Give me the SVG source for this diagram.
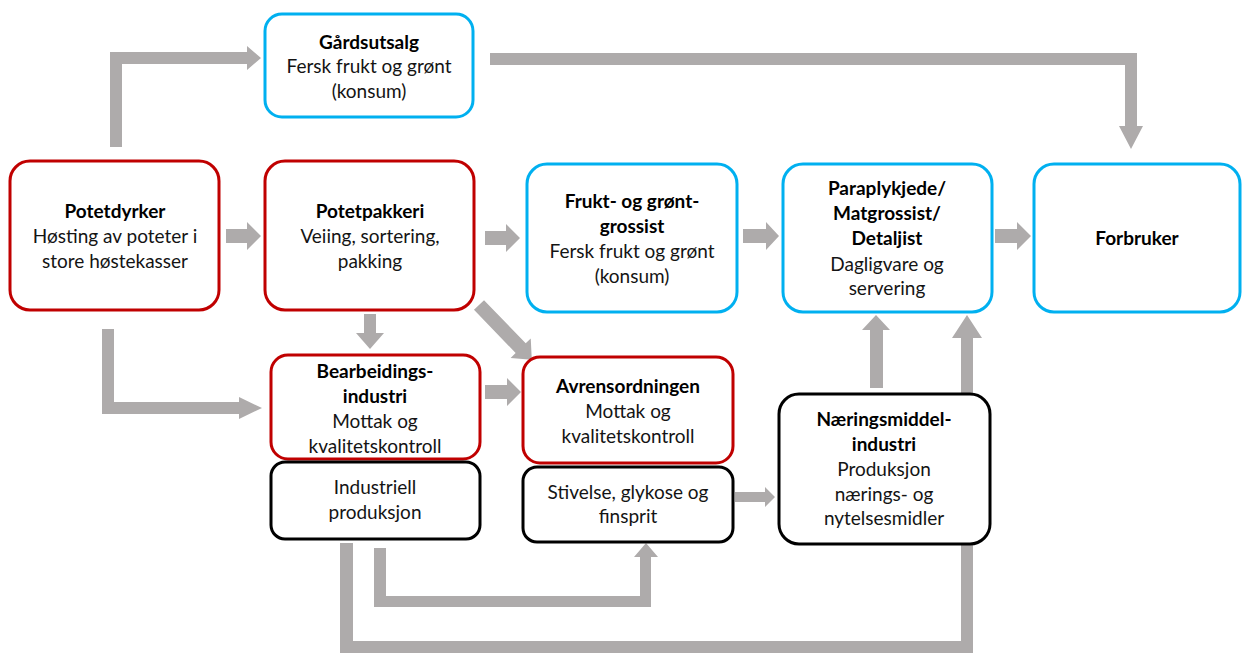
<svg xmlns="http://www.w3.org/2000/svg" width="1242" height="654" viewBox="0 0 1242 654">
  <style>
    .arrow { fill: #AEABAB; }
    .box { fill: #FFFFFF; stroke-width: 3; }
    .red { stroke: #C00000; }
    .blue { stroke: #00B0F0; }
    .black { stroke: #000000; }
    text { font-family: Lato, "Liberation Sans", Arial, sans-serif; font-size: 19px; fill: #141414; text-anchor: middle; }
    .b { font-weight: bold; fill: #000000; }
  </style>
  <rect width="1242" height="654" fill="#FFFFFF"/>

  <!-- connectors (drawn first so boxes sit on top) -->
  <g id="connectors">
    <!-- Potetdyrker -> Gårdsutsalg -->
    <polygon class="arrow" points="110,147 110,52 247,52 247,46 261,58 247,70 247,64 122,64 122,147"/>
    <!-- Gårdsutsalg -> Forbruker -->
    <polygon class="arrow" points="490,53 1137,53 1137,126 1143,126 1131,149 1119,126 1125,126 1125,65 490,65"/>
    <!-- Potetdyrker -> Potetpakkeri -->
    <polygon class="arrow" points="226,229 247,229 247,222 261,236 247,250 247,243 226,243"/>
    <!-- Potetpakkeri -> Frukt- og grøntgrossist -->
    <polygon class="arrow" points="485,231 506,231 506,224 520,238 506,252 506,245 485,245"/>
    <!-- Frukt- og grøntgrossist -> Paraplykjede -->
    <polygon class="arrow" points="743,229 766,229 766,222 779,236 766,250 766,243 743,243"/>
    <!-- Paraplykjede -> Forbruker -->
    <polygon class="arrow" points="995,229 1017,229 1017,222 1031,236 1017,250 1017,243 995,243"/>
    <!-- Potetpakkeri -> Bearbeidingsindustri -->
    <polygon class="arrow" points="364,314 376,314 376,333 384,333 370,349 356,333 364,333"/>
    <!-- Potetpakkeri -> Avrensordningen -->
    <polygon class="arrow" transform="translate(479,305) rotate(46)" points="0,-7 60,-7 60,-14 76,0 60,14 60,7 0,7"/>
    <!-- Potetdyrker -> Bearbeidingsindustri -->
    <polygon class="arrow" points="102,329 114,329 114,402 239,402 239,397 262,408 239,419 239,414 102,414"/>
    <!-- Bearbeidingsindustri -> Avrensordningen -->
    <polygon class="arrow" points="485,385 507,385 507,378 521,392 507,406 507,399 485,399"/>
    <!-- Industriell produksjon -> Stivelse, glykose og finsprit -->
    <polygon class="arrow" points="374,548 386,548 386,596 640,596 640,557 634,557 646,543 658,557 651,557 651,607 374,607"/>
    <!-- Industriell produksjon -> Paraplykjede (loop under everything) -->
    <polygon class="arrow" points="340,543 353,543 353,641 961,641 961,338 952,338 967,315 982,338 973,338 973,653 340,653"/>
    <!-- Næringsmiddelindustri -> Paraplykjede -->
    <polygon class="arrow" points="870,388 883,388 883,330 890,330 876,315 862,330 870,330"/>
    <!-- Stivelse -> Næringsmiddelindustri -->
    <polygon class="arrow" points="735,492 765,492 765,487 775,497 765,507 765,502 735,502"/>
  </g>

  <g id="gardsutsalg">
    <rect class="box blue" x="265" y="14" width="208" height="103" rx="17"/>
    <text class="b" x="369" y="49">Gårdsutsalg</text>
    <text x="369" y="73">Fersk frukt og grønt</text>
    <text x="369" y="98">(konsum)</text>
  </g>

  <g id="potetdyrker">
    <rect class="box red" x="10" y="161" width="209" height="149" rx="20"/>
    <text class="b" x="115" y="218">Potetdyrker</text>
    <text x="115" y="243">Høsting av poteter i</text>
    <text x="115" y="268">store høstekasser</text>
  </g>

  <g id="potetpakkeri">
    <rect class="box red" x="265" y="161" width="209" height="149" rx="20"/>
    <text class="b" x="370" y="218">Potetpakkeri</text>
    <text x="370" y="243">Veiing, sortering,</text>
    <text x="370" y="268">pakking</text>
  </g>

  <g id="grossist">
    <rect class="box blue" x="527" y="164" width="210" height="148" rx="20"/>
    <text class="b" x="632" y="208">Frukt- og grønt-</text>
    <text class="b" x="632" y="233">grossist</text>
    <text x="632" y="258">Fersk frukt og grønt</text>
    <text x="632" y="283">(konsum)</text>
  </g>

  <g id="paraplykjede">
    <rect class="box blue" x="783" y="164" width="209" height="148" rx="20"/>
    <text class="b" x="887" y="195">Paraplykjede/</text>
    <text class="b" x="887" y="220">Matgrossist/</text>
    <text class="b" x="887" y="245">Detaljist</text>
    <text x="887" y="271">Dagligvare og</text>
    <text x="887" y="295">servering</text>
  </g>

  <g id="forbruker">
    <rect class="box blue" x="1034" y="164" width="206" height="148" rx="20"/>
    <text class="b" x="1137" y="245">Forbruker</text>
  </g>

  <g id="bearbeidingsindustri">
    <rect class="box red" x="271" y="355" width="209" height="104" rx="17"/>
    <text class="b" x="375" y="378">Bearbeidings-</text>
    <text class="b" x="375" y="403">industri</text>
    <text x="375" y="428">Mottak og</text>
    <text x="375" y="453">kvalitetskontroll</text>
  </g>

  <g id="industriell-produksjon">
    <rect class="box black" x="271" y="462" width="209" height="77" rx="14"/>
    <text x="375" y="494">Industriell</text>
    <text x="375" y="519">produksjon</text>
  </g>

  <g id="avrensordningen">
    <rect class="box red" x="523" y="357" width="210" height="106" rx="17"/>
    <text class="b" x="628" y="393">Avrensordningen</text>
    <text x="628" y="418">Mottak og</text>
    <text x="628" y="443">kvalitetskontroll</text>
  </g>

  <g id="stivelse">
    <rect class="box black" x="523" y="467" width="210" height="75" rx="14"/>
    <text x="628" y="499">Stivelse, glykose og</text>
    <text x="628" y="523">finsprit</text>
  </g>

  <g id="naeringsmiddelindustri">
    <rect class="box black" x="779" y="394" width="211" height="150" rx="20"/>
    <text class="b" x="884" y="426">Næringsmiddel-</text>
    <text class="b" x="884" y="451">industri</text>
    <text x="884" y="476">Produksjon</text>
    <text x="884" y="501">nærings- og</text>
    <text x="884" y="525">nytelsesmidler</text>
  </g>
</svg>
